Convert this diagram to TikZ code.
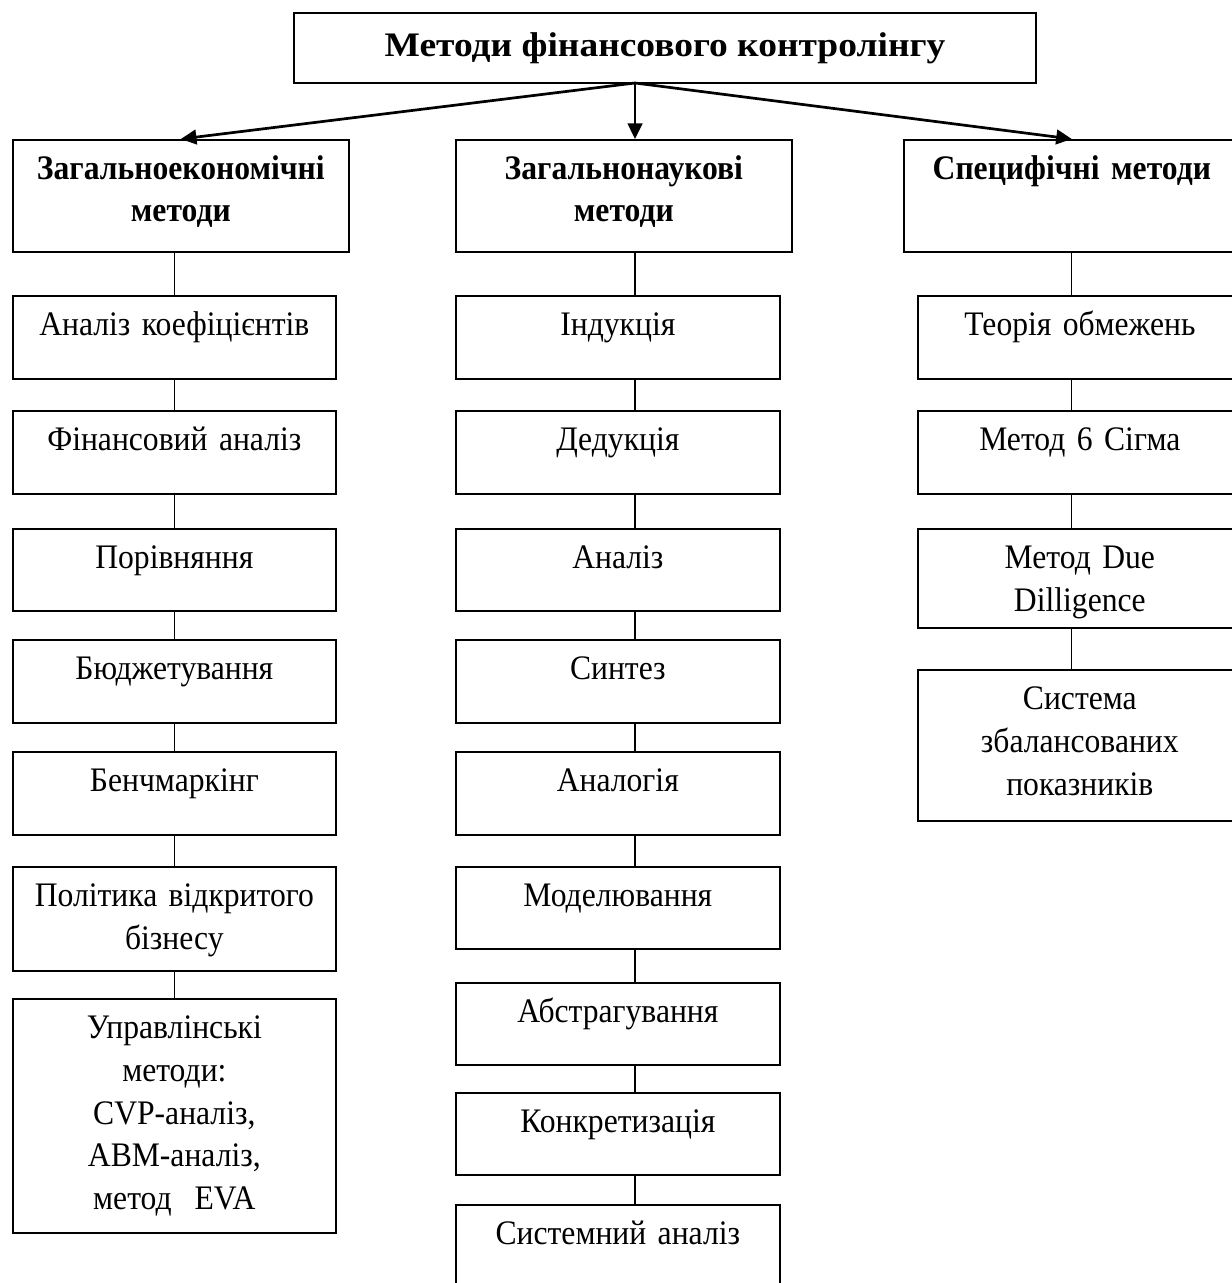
\documentclass[tikz,border=0pt]{standalone}
\usepackage{fontspec}
\setmainfont{Liberation Serif}[FakeStretch=0.92]
\newfontfamily\titlefont{Liberation Serif}[FakeStretch=1.09]
\usepackage{tikz}
\usetikzlibrary{positioning, arrows.meta}

\tikzset{
  box/.style 2 args={draw, line width=0.8pt, anchor=north west, inner sep=0pt, align=center,
    font=\fontsize{16.5}{20.5}\selectfont,
    text width=#1*0.48pt, text height=19.2pt, text depth=#2*0.48pt-19.2pt},
  head/.style={font=\bfseries\fontsize{16.5}{20}\selectfont},
  titlebox/.style={draw, line width=0.9pt, inner sep=0pt,
    minimum width=356pt, minimum height=33.3pt,
    font=\titlefont\bfseries\fontsize{16.5}{19}\selectfont},
  link/.style={line width=0.55pt},
  arrow/.style={line width=1.3pt, -{Triangle[length=7.5pt, width=7pt]}}
}

\begin{document}
\begin{tikzpicture}[x=0.48pt, y=-0.48pt]
  \useasboundingbox (0,0) rectangle (1231,1283);

  \node[titlebox] (title) at (665,48) {Методи фінансового контролінгу};
  \coordinate (fork) at (635,83);

  % level 1
  \node[box={336}{112}, head] (gen) at (12,139) {Загальноекономічні\\методи};
  \node[box={336}{112}, head] (sci) at (455,139) {Загальнонаукові\\методи};
  \node[box={336}{112}, head] (spec) at (903,139) {Специфічні методи};

  \draw[arrow] (fork) -- (gen.north);
  \draw[arrow] (fork) -- (sci.north -| fork);
  \draw[arrow] (fork) -- (spec.north);

  % general economic
  \node[box={323}{83}] (gen1) at (12,295) {Аналіз коефіцієнтів};
  \node[box={323}{83}] (gen2) at (12,410) {Фінансовий аналіз};
  \node[box={323}{82}] (gen3) at (12,528) {Порівняння};
  \node[box={323}{83}] (gen4) at (12,639) {Бюджетування};
  \node[box={323}{83}] (gen5) at (12,751) {Бенчмаркінг};
  \node[box={323}{104}] (gen6) at (12,866) {Політика відкритого\\бізнесу};
  \node[box={323}{234}] (gen7) at (12,998) {Управлінські\\методи:\\CVP-аналіз,\\ABM-аналіз,\\метод~ EVA};

  % general scientific
  \node[box={324}{83}] (sci1) at (455,295) {Індукція};
  \node[box={324}{83}] (sci2) at (455,410) {Дедукція};
  \node[box={324}{82}] (sci3) at (455,528) {Аналіз};
  \node[box={324}{83}] (sci4) at (455,639) {Синтез};
  \node[box={324}{83}] (sci5) at (455,751) {Аналогія};
  \node[box={324}{82}] (sci6) at (455,866) {Моделювання};
  \node[box={324}{82}] (sci7) at (455,982) {Абстрагування};
  \node[box={324}{82}] (sci8) at (455,1092) {Конкретизація};
  \node[box={324}{110}] (sci9) at (455,1204) {Системний аналіз};

  % specific
  \node[box={324}{83}] (spec1) at (917,295) {Теорія обмежень};
  \node[box={324}{83}] (spec2) at (917,410) {Метод 6 Сігма};
  \node[box={324}{99}] (spec3) at (917,528) {Метод Due\\Dilligence};
  \node[box={324}{151}] (spec4) at (917,669) {Система\\збалансованих\\показників};

  \draw[link] (gen.south -| gen1.north) -- (gen1.north);
  \draw[link] (gen1.south) -- (gen2.north);
  \draw[link] (gen2.south) -- (gen3.north);
  \draw[link] (gen3.south) -- (gen4.north);
  \draw[link] (gen4.south) -- (gen5.north);
  \draw[link] (gen5.south) -- (gen6.north);
  \draw[link] (gen6.south) -- (gen7.north);

  \draw[link] (sci.south -| fork) -- (sci1.north -| fork);
  \draw[link] (sci1.south -| fork) -- (sci2.north -| fork);
  \draw[link] (sci2.south -| fork) -- (sci3.north -| fork);
  \draw[link] (sci3.south -| fork) -- (sci4.north -| fork);
  \draw[link] (sci4.south -| fork) -- (sci5.north -| fork);
  \draw[link] (sci5.south -| fork) -- (sci6.north -| fork);
  \draw[link] (sci6.south -| fork) -- (sci7.north -| fork);
  \draw[link] (sci7.south -| fork) -- (sci8.north -| fork);
  \draw[link] (sci8.south -| fork) -- (sci9.north -| fork);

  \draw[link] (spec.south) -- (spec1.north -| spec.south);
  \draw[link] (spec1.south -| spec.south) -- (spec2.north -| spec.south);
  \draw[link] (spec2.south -| spec.south) -- (spec3.north -| spec.south);
  \draw[link] (spec3.south -| spec.south) -- (spec4.north -| spec.south);
\end{tikzpicture}
\end{document}
